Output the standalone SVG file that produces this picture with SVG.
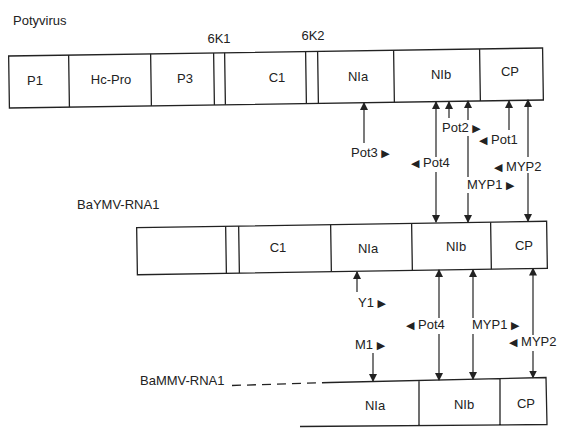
<svg xmlns="http://www.w3.org/2000/svg" width="561" height="429" viewBox="0 0 561 429">
<style>
.bx{fill:none;stroke:#222;stroke-width:1.3}
.ln{fill:none;stroke:#222;stroke-width:1.2}
.a{marker-end:url(#ah)}
.b{marker-start:url(#ahs)}
text{font-family:"Liberation Sans","DejaVu Sans",Arial,sans-serif;font-size:13px;fill:#222}
.c{text-anchor:middle}
.tri{font-family:"DejaVu Sans",sans-serif;font-size:11px}
</style>
<defs>
<marker id="ah" markerUnits="userSpaceOnUse" markerWidth="8" markerHeight="10" refX="7" refY="4" orient="auto"><path d="M0,0 L8,4 L0,8 Z" fill="#222"/></marker>
<marker id="ahs" markerUnits="userSpaceOnUse" markerWidth="8" markerHeight="10" refX="1" refY="4" orient="auto"><path d="M8,0 L0,4 L8,8 Z" fill="#222"/></marker>
</defs>
<rect width="561" height="429" fill="#fff"/>

<g id="potyvirus">
<text x="13" y="25">Potyvirus</text>
<g transform="rotate(-0.86 276 78)">
<rect class="bx" x="9" y="52" width="534" height="52"/>
<path class="bx" d="M69,52V104M151,52V104M214,52V104M225,52V104M306,52V104M318,52V104M394,52V104M480,52V104"/>
</g>
<text x="219" y="43" class="c">6K1</text>
<text x="313" y="40" class="c">6K2</text>
<text x="35" y="85" class="c">P1</text>
<text x="111" y="84" class="c">Hc-Pro</text>
<text x="185" y="83" class="c">P3</text>
<text x="277" y="82" class="c">C1</text>
<text x="358" y="81" class="c">NIa</text>
<text x="441" y="79" class="c">NIb</text>
<text x="510" y="76" class="c">CP</text>
</g>

<g id="baymv">
<text x="77" y="209">BaYMV-RNA1</text>
<g transform="rotate(-0.9 342 248)">
<rect class="bx" x="137" y="224.5" width="410" height="47"/>
<path class="bx" d="M226,224.5V271.5M239,224.5V271.5M331,224.5V271.5M412,224.5V271.5M491,224.5V271.5"/>
</g>
<text x="278" y="252" class="c">C1</text>
<text x="368" y="253" class="c">NIa</text>
<text x="456" y="251" class="c">NIb</text>
<text x="524" y="250" class="c">CP</text>
</g>

<g id="bammv">
<text x="140" y="385">BaMMV-RNA1</text>
<path class="bx" d="M232,385.5L330,382.5" stroke-dasharray="9,6"/>
<path class="bx" d="M330,382.5L546,377.5L547,424.5L300,426.5M419,380V425.5M500,378V424.8"/>
<text x="375" y="410" class="c">NIa</text>
<text x="464" y="409" class="c">NIb</text>
<text x="526" y="408" class="c">CP</text>
</g>

<g id="connectors">
<path class="ln a" d="M364,143V103"/>
<path class="ln b" d="M436,102V157"/>
<path class="ln a" d="M436,172V222"/>
<path class="ln a" d="M449,118V102"/>
<path class="ln b" d="M468,101V120M468,136V177"/>
<path class="ln a" d="M468,193V222"/>
<path class="ln a" d="M509,130V101"/>
<path class="ln b" d="M528,100V157"/>
<path class="ln a" d="M528,173V221"/>
<path class="ln a" d="M357,292V272"/>
<path class="ln b" d="M439,270V318"/>
<path class="ln a" d="M439,334V380"/>
<path class="ln b" d="M473,270V318"/>
<path class="ln a" d="M473,334V379"/>
<path class="ln b" d="M533,268.5V335"/>
<path class="ln a" d="M533,351V377.5"/>
<path class="ln a" d="M373,353V381"/>
</g>

<g id="labels">
<text x="351" y="157">Pot3 <tspan class="tri">▶</tspan></text>
<text x="442" y="132">Pot2 <tspan class="tri">▶</tspan></text>
<text x="479" y="144"><tspan class="tri">◀</tspan> Pot1</text>
<text x="411" y="167"><tspan class="tri">◀</tspan> Pot4</text>
<text x="494" y="171"><tspan class="tri">◀</tspan> MYP2</text>
<text x="467" y="189">MYP1 <tspan class="tri">▶</tspan></text>
<text x="358" y="307">Y1 <tspan class="tri">▶</tspan></text>
<text x="406" y="329"><tspan class="tri">◀</tspan> Pot4</text>
<text x="472" y="329">MYP1 <tspan class="tri">▶</tspan></text>
<text x="355" y="349">M1 <tspan class="tri">▶</tspan></text>
<text x="509" y="346"><tspan class="tri">◀</tspan> MYP2</text>
</g>
</svg>
